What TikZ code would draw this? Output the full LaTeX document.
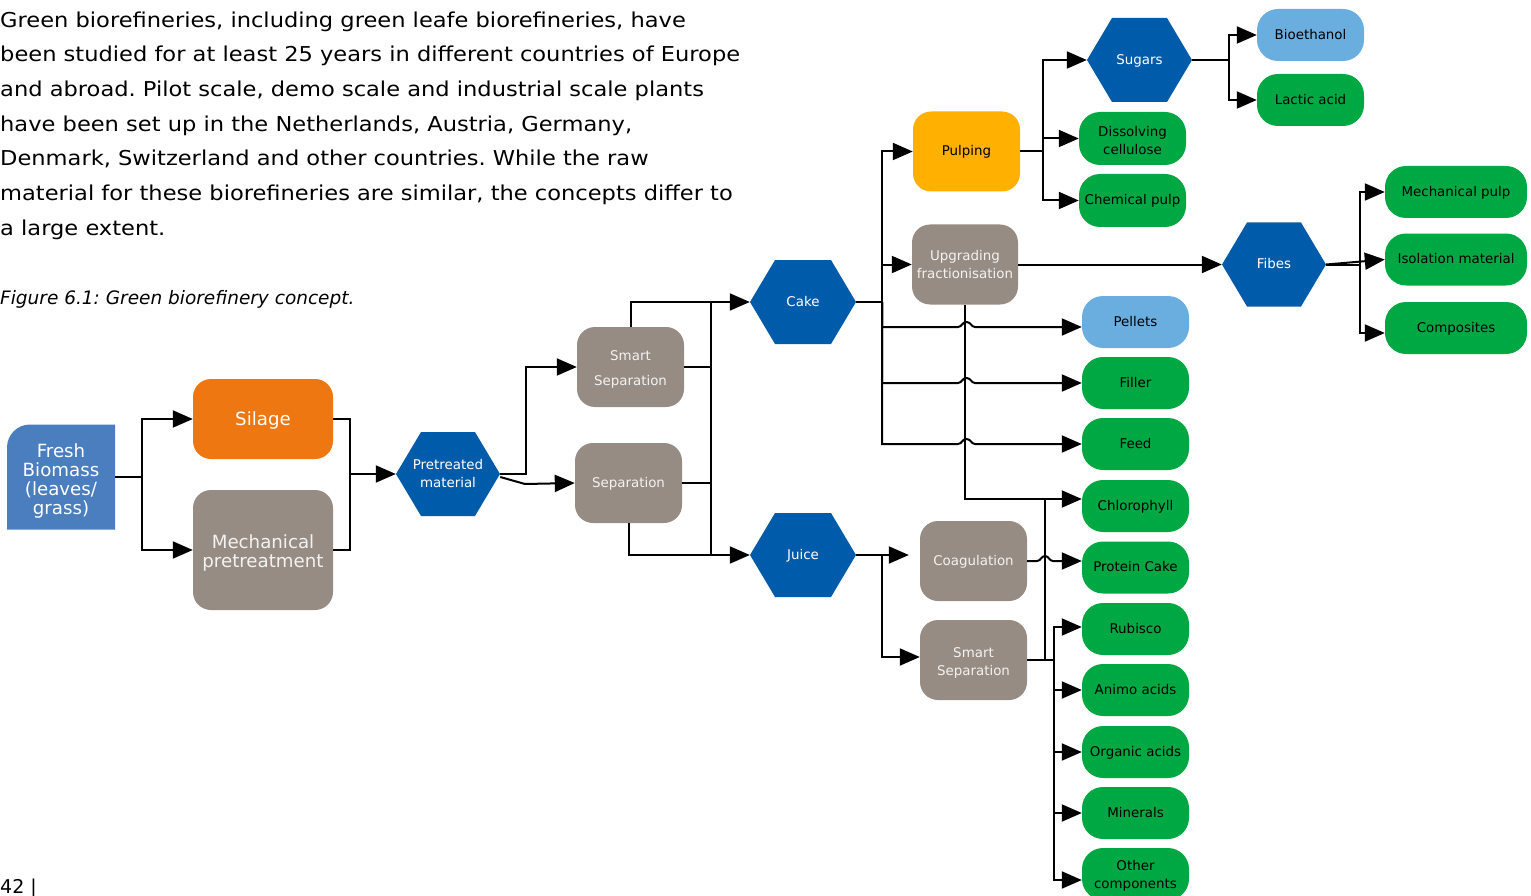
\documentclass[tikz,border=0pt]{standalone}
\usepackage{fontspec}
\setmainfont{DejaVu Sans}
\newfontfamily\bodyfont[FakeStretch=1.1]{DejaVu Sans}
\usetikzlibrary{arrows.meta}
\frenchspacing

\definecolor{biomassblue}{RGB}{74,126,191}
\definecolor{silageorange}{RGB}{238,119,17}
\definecolor{stepgray}{RGB}{151,140,131}
\definecolor{hexblue}{RGB}{0,91,170}
\definecolor{pulpyellow}{RGB}{255,176,0}
\definecolor{productgreen}{RGB}{0,168,67}
\definecolor{paleblue}{RGB}{106,174,223}

\tikzset{
  labelfont/.style={font=\fontsize{13.4}{18}\selectfont},
  bigfont/.style={font=\fontsize{18.2}{19}\selectfont},
  oneline/.style={text height=9.8pt, text depth=1pt},
  bigline/.style={text height=13.3pt, text depth=1.3pt},
  procbox/.style={rectangle, rounded corners=18pt, fill=stepgray, text=white!95!black,
    minimum width=107pt, minimum height=80pt, inner sep=0pt, align=center, labelfont},
  prodbox/.style={rectangle, rounded corners=21pt, fill=productgreen, text=black,
    minimum width=107pt, minimum height=52pt, inner sep=0pt, align=center, labelfont},
  widebox/.style={prodbox, minimum width=142pt},
  hexbox/.style={rectangle, fill=white, minimum width=104pt, minimum height=84pt,
    inner sep=0pt, text=white, align=center, labelfont,
    path picture={\fill[hexblue] (path picture bounding box.west)
      -- ([xshift=25pt]path picture bounding box.north west)
      -- ([xshift=-25pt]path picture bounding box.north east)
      -- (path picture bounding box.east)
      -- ([xshift=-25pt]path picture bounding box.south east)
      -- ([xshift=25pt]path picture bounding box.south west) -- cycle;}},
  link/.style={line width=2pt, draw=black},
  flow/.style={link, -{Triangle[length=20pt,width=17pt]}},
  introline/.style={anchor=base west, inner sep=0pt, font=\bodyfont\fontsize{20.5}{24}\selectfont}
}

\begin{document}
\begin{tikzpicture}[x=1pt, y=-1pt]
\path[use as bounding box] (0,0) rectangle (1531,896);

% introductory paragraph and caption
\node[introline] (intro1) at (0,27.3) {Green biorefineries, including green leafe biorefineries, have};
\node[introline] (intro2) at (0,62) {been studied for at least 25 years in different countries of Europe};
\node[introline] (intro3) at (0,96.6) {and abroad. Pilot scale, demo scale and industrial scale plants};
\node[introline] (intro4) at (0,131.3) {have been set up in the Netherlands, Austria, Germany,};
\node[introline] (intro5) at (0,165.9) {Denmark, Switzerland and other countries. While the raw};
\node[introline] (intro6) at (0,200.6) {material for these biorefineries are similar, the concepts differ to};
\node[introline] (intro7) at (0,235.2) {a large extent.};
\node[anchor=base west, inner sep=0pt, font=\fontsize{18.5}{22}\selectfont\itshape] (caption) at (0,304) {Figure 6.1: Green biorefinery concept.};
\node[anchor=base west, inner sep=0pt, font=\fontsize{19}{22}\selectfont] (pageno) at (0,893) {42 |};

% feedstock and pretreatment
\node[rectangle, fill=white, minimum width=108pt, minimum height=105pt, inner sep=0pt,
  text=white, align=center, bigfont,
  path picture={\fill[biomassblue] (path picture bounding box.south west)
    -- ([yshift=-23pt]path picture bounding box.north west)
    arc (180:90:23pt)
    -- (path picture bounding box.north east)
    -- (path picture bounding box.south east) -- cycle;}]
  (fresh) at (61,477) {\rule{0pt}{21.8pt}Fresh\\Biomass\\(leaves/\\grass)};
\node[procbox, fill=silageorange, text=white, bigfont, bigline, minimum width=140pt] (silage) at (263,419) {Silage};
\node[procbox, bigfont, minimum width=140pt, minimum height=120pt] (mech) at (263,550) {\rule{0pt}{19.8pt}Mechanical\\pretreatment};
\node[hexbox] (pre) at (448,474) {Pretreated\\material};

% separation stage
\node[procbox] (smart1) at (630.5,367) {\rule{0pt}{14.2pt}Smart\\[7pt]Separation};
\node[procbox, oneline] (sep) at (628.5,483) {Separation};
\node[hexbox, oneline, minimum width=106pt] (cake) at (803,302) {Cake};
\node[hexbox, oneline, minimum width=106pt] (juice) at (803,555) {Juice};

% cake processing
\node[procbox, oneline, fill=pulpyellow, text=black] (pulping) at (966.5,151.5) {Pulping};
\node[procbox, minimum width=106pt] (upgr) at (965,264.5) {Upgrading\\fractionisation};
\node[hexbox, oneline, minimum width=105pt] (sugars) at (1139.5,60) {Sugars};
\node[hexbox, oneline] (fibes) at (1274,264.5) {Fibes};
\node[prodbox, oneline, fill=paleblue] (bioeth) at (1310.5,35) {Bioethanol};
\node[prodbox, oneline] (lactic) at (1310.5,100) {Lactic acid};
\node[prodbox, minimum height=53pt] (dissolv) at (1132.5,138.5) {\rule{0pt}{13.2pt}Dissolving\\cellulose};
\node[prodbox, oneline, minimum height=53pt] (chem) at (1132.5,200.5) {Chemical pulp};
\node[widebox, oneline] (mpulp) at (1456,192) {Mechanical pulp};
\node[widebox, oneline] (iso) at (1456,259.5) {Isolation material};
\node[widebox, oneline] (comp) at (1456,328) {Composites};

% juice processing
\node[procbox, oneline] (coag) at (973.5,561) {Coagulation};
\node[procbox] (smart2) at (973.5,660) {\rule{0pt}{16.2pt}Smart\\Separation};

% product column
\node[prodbox, oneline, fill=paleblue] (pellets) at (1135.5,322) {Pellets};
\node[prodbox, oneline] (filler) at (1135.5,383) {Filler};
\node[prodbox, oneline] (feed) at (1135.5,444) {Feed};
\node[prodbox, oneline] (chloro) at (1135.5,506) {Chlorophyll};
\node[prodbox, oneline] (protein) at (1135.5,567.5) {Protein Cake};
\node[prodbox, oneline] (rubisco) at (1135.5,629) {Rubisco};
\node[prodbox, oneline] (animo) at (1135.5,690) {Animo acids};
\node[prodbox, oneline] (organic) at (1135.5,752) {Organic acids};
\node[prodbox, oneline] (minerals) at (1135.5,813) {Minerals};
\node[prodbox] (other) at (1135.5,874) {\rule{0pt}{14.2pt}Other\\components};

% junction points
\coordinate (fj) at (142,477);
\coordinate (pj) at (350,474);
\coordinate (prej) at (526,474);
\coordinate (slant) at (525,484);
\coordinate (sbusT) at (711,302);
\coordinate (sbusB) at (711,555);
\coordinate (cj) at (882,302);
\coordinate (jj) at (882,555);
\coordinate (pulpj) at (1043,151.5);
\coordinate (sugj) at (1229,60);
\coordinate (fibj) at (1360,264.5);
\coordinate (chlj) at (1045,499);
\coordinate (s2j) at (1054,660);

% feedstock to pretreated material
\draw[link] (fresh.east) -- (fj);
\draw[flow] (fj) |- (silage.west);
\draw[flow] (fj) |- (mech.west);
\draw[link] (silage.east) -| (pj) |- (mech.east);
\draw[flow] (pj) -- (pre.west);

% pretreated material to separations
\draw[flow] (pre.east) -- (prej) |- (smart1.west);
\draw[flow] ([yshift=-3pt]pre.east) -- (slant) -- (sep.west);

% separations to cake and juice
\draw[flow] (smart1.north) |- (cake.west);
\draw[link] (sbusT) -- (sbusB);
\draw[link] (smart1.east) -- (smart1.east -| sbusT);
\draw[link] (sep.east) -- (sep.east -| sbusT);
\draw[flow] (sep.south) |- (juice.west);

% cake branches
\draw[link] (cake.east) -- (cj);
\draw[flow] (cj) |- (pulping.west);
\draw[flow] (cj) |- (upgr.west);
\draw[flow] (cj) |- (958,327) .. controls (962,327) and (962,322) .. (966.5,322)
  .. controls (971,322) and (971,327) .. (975,327) -- ([yshift=-5pt]pellets.west);
\draw[flow] (cj) |- (958,383) .. controls (962,383) and (962,378) .. (966.5,378)
  .. controls (971,378) and (971,383) .. (975,383) -- (filler.west);
\draw[flow] (cj) |- (958,444) .. controls (962,444) and (962,439) .. (966.5,439)
  .. controls (971,439) and (971,444) .. (975,444) -- (feed.west);

% pulping branches
\draw[link] (pulping.east) -- (pulpj);
\draw[flow] (pulpj) |- (sugars.west);
\draw[flow] (pulpj) |- (dissolv.west);
\draw[flow] (pulpj) |- (chem.west);
\draw[link] (sugars.east) -- (sugj);
\draw[flow] (sugj) |- (bioeth.west);
\draw[flow] (sugj) |- (lactic.west);

% upgrading branches
\draw[flow] (upgr.east) -- (fibes.west);
\draw[flow] (upgr.south) |- ([yshift=7pt]chloro.west);
\draw[link] (fibes.east) -- (fibj);
\draw[flow] (fibj) |- (mpulp.west);
\draw[flow] (fibes.east) -- (iso.west);
\draw[flow] (fibj) |- ([yshift=-5pt]comp.west);

% juice branches
\draw[link] (juice.east) -- (jj);
\draw[flow, shorten >=11pt] (jj) -- (coag.west |- jj);
\draw[flow] (jj) |- ([yshift=3pt]smart2.west);
\draw[flow] (coag.east) -- (1037,561) .. controls (1041,561) and (1041,556) .. (1045,556)
  .. controls (1049,556) and (1049,561) .. (1053,561) -- ([yshift=6.5pt]protein.west);
\draw[link] (smart2.east) -- (s2j);
\draw[link] (chlj) -- (chlj |- s2j);
\draw[flow] (s2j) |- ([yshift=2pt]rubisco.west);
\draw[flow] (s2j) |- (animo.west);
\draw[flow] (s2j) |- (organic.west);
\draw[flow] (s2j) |- (minerals.west);
\draw[flow] (s2j) |- ([yshift=-6pt]other.west);
\end{tikzpicture}
\end{document}
